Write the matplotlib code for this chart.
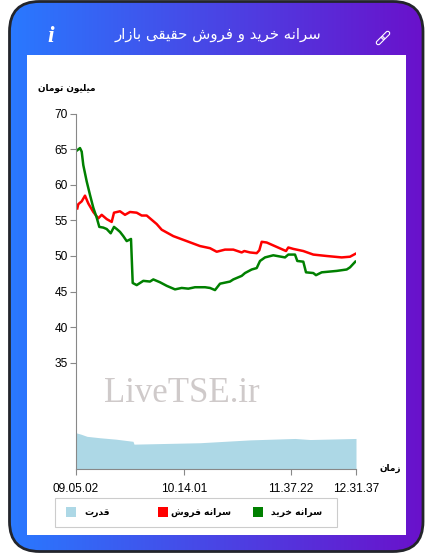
import matplotlib
matplotlib.use('Agg')
import matplotlib.pyplot as plt
import numpy as np
from matplotlib.patches import FancyBboxPatch, Rectangle
from matplotlib.transforms import Affine2D

# data, x is the sample position on the category axis
buy_x = [1.3, 4, 5.7, 7.3, 10.7, 14, 17.3, 20.7, 23.3, 27.3, 30.7, 34.7, 38, 40.7, 44, 47.3, 50.7, 55, 56.7,
         60.7, 67.3, 74, 77.3, 84, 90.7, 99, 105.7, 112.3, 119, 129, 134, 139, 144, 154, 157.3, 165.7, 169,
         175.7, 180.7, 184, 189, 197.3, 209, 212.3, 219, 221.3, 227.3, 230, 237.3, 240, 245.7, 260.7, 270.7,
         274, 279.3]
buy_values = [64.9, 65.2, 64.7, 62.8, 60.5, 58.6, 56.8, 55.4, 54.1, 54.0, 53.8, 53.2, 54.1, 53.8, 53.4, 52.8, 52.1,
              52.4, 46.2, 45.9, 46.5, 46.4, 46.7, 46.3, 45.8, 45.3, 45.5, 45.4, 45.6, 45.6, 45.5, 45.2, 46.1, 46.4,
              46.7, 47.2, 47.6, 48.1, 48.3, 49.3, 49.8, 50.1, 49.8, 50.2, 50.2, 49.3, 49.2, 47.7, 47.6, 47.3, 47.7,
              47.9, 48.1, 48.4, 49.2]
sell_x = [1.3, 2.3, 5.7, 9, 12.3, 17.3, 22.3, 25.7, 30.7, 35.7, 38, 44, 49, 54, 60.7, 65.7, 70.7, 75.7, 80.7, 85.7,
          97.3, 110.7, 124, 130.7, 134, 140.7, 149, 157.3, 165.7, 168.3, 174, 180.7, 183.3, 185.7, 190.7, 210,
          212.3, 217.3, 227.3, 237.3, 250.7, 265.7, 274, 279.3]
sell_values = [56.7, 57.3, 57.7, 58.5, 57.4, 56.2, 55.3, 55.8, 55.2, 54.8, 56.1, 56.3, 55.8, 56.2, 56.1, 55.7, 55.7,
               55.1, 54.5, 53.7, 52.8, 52.1, 51.4, 51.2, 51.1, 50.6, 50.9, 50.9, 50.5, 50.7, 50.5, 50.4, 50.8, 52.0,
               51.9, 50.7, 51.2, 51.0, 50.7, 50.2, 50.0, 49.8, 49.9, 50.3]
power_x = [0, 5, 11, 24, 40, 57, 58, 124, 174, 219, 234, 280]
power_values = [25.1, 24.9, 24.6, 24.4, 24.2, 23.9, 23.5, 23.7, 24.1, 24.3, 24.15, 24.3]
time_ticks = [0, 108, 215, 280]
time_labels = ['09.05.02', '10.14.01', '11.37.22', '12.31.37']
y_ticks = [35, 40, 45, 50, 55, 60, 65, 70]

title = 'سرانه خرید و فروش حقیقی بازار'
y_title = 'میلیون تومان'
x_title = 'زمان'
buy_name = 'سرانه خرید'
sell_name = 'سرانه فروش'
power_name = 'قدرت'

# matplotlib does not join arabic letters, so pick the presentation forms by hand
forms = {
    'ا': 'ﺍﺎ', 'د': 'ﺩﺪ', 'ر': 'ﺭﺮ', 'ز': 'ﺯﺰ', 'و': 'ﻭﻮ',
    'ب': 'ﺏﺐﺑﺒ', 'ت': 'ﺕﺖﺗﺘ', 'ح': 'ﺡﺢﺣﺤ', 'خ': 'ﺥﺦﺧﺨ', 'س': 'ﺱﺲﺳﺴ', 'ش': 'ﺵﺶﺷﺸ',
    'ف': 'ﻑﻒﻓﻔ', 'ق': 'ﻕﻖﻗﻘ', 'ل': 'ﻝﻞﻟﻠ', 'م': 'ﻡﻢﻣﻤ', 'ن': 'ﻥﻦﻧﻨ', 'ه': 'ﻩﻪﻫﻬ',
    'ی': 'ﯼﯽﯾﯿ',
}


def shape(text):
    out = []
    for word in text.split(' '):
        letters = ''
        for i, ch in enumerate(word):
            prev_joins = i > 0 and len(forms[word[i - 1]]) == 4
            next_joins = i < len(word) - 1 and len(forms[ch]) == 4
            if prev_joins and next_joins:
                letters += forms[ch][3]
            elif next_joins:
                letters += forms[ch][2]
            elif prev_joins:
                letters += forms[ch][1]
            else:
                letters += forms[ch][0]
        out.append(letters)
    return ' '.join(out)[::-1]


W, H = 433, 559
fig = plt.figure(figsize=(W / 100, H / 100), dpi=100, facecolor='white')

# card in pixel coordinates
bg = fig.add_axes([0, 0, 1, 1], zorder=0)
bg.set_xlim(0, W)
bg.set_ylim(H, 0)
bg.axis('off')

c1 = np.array([0x29, 0x79, 0xff]) / 255
c2 = np.array([0x6a, 0x11, 0xcb]) / 255
t = np.linspace(0, 1, 256)[None, :, None]
grad = c1 + (c2 - c1) * t
im = bg.imshow(grad, extent=[9, 424, 553, 1], aspect='auto', zorder=1)
card = FancyBboxPatch((9.5, 1.5), 413.5, 550, boxstyle='round,pad=0,rounding_size=30',
                      facecolor='none', edgecolor='#23252b', linewidth=2.0, zorder=3)
bg.add_patch(card)
im.set_clip_path(card)
bg.set_xlim(0, W)
bg.set_ylim(H, 0)
bg.add_patch(Rectangle((27, 55), 379, 480, facecolor='white', edgecolor='none', zorder=2))

bg.text(218, 35, shape(title), color='white', fontsize=10.7, family='DejaVu Sans', ha='center', va='center', zorder=4)
bg.text(51, 37, 'i', color='white', fontsize=17, family='Liberation Serif', style='italic', weight='bold',
        ha='center', va='center', zorder=4)

# link icon
for off in (-3.8, 3.8):
    rot = Affine2D().rotate_deg_around(383, 38, -45) + bg.transData
    bg.add_patch(FancyBboxPatch((383 + off - 4.8, 36), 9.6, 4, boxstyle='round,pad=0,rounding_size=2',
                                facecolor='none', edgecolor='white', linewidth=0.8, transform=rot, zorder=4))

bg.text(67, 88, shape(y_title), fontsize=6.4, family='DejaVu Sans', weight='bold', ha='center', va='center', zorder=4)
bg.text(390, 468, shape(x_title), fontsize=6.4, family='DejaVu Sans', weight='bold', ha='center', va='center', zorder=4)
bg.text(182, 393, 'LiveTSE.ir', fontsize=25, family='Liberation Serif', color='#cfcaca', ha='center', va='center', zorder=4)

# legend box
bg.add_patch(Rectangle((54.5, 497.5), 282, 29, facecolor='white', edgecolor='#cccccc', linewidth=0.8, zorder=4))
for x0, color, name, right in [(253, 'green', buy_name, 322), (158, 'red', sell_name, 231), (66, 'lightblue', power_name, 110)]:
    bg.add_patch(Rectangle((x0, 507), 10, 10, facecolor=color, edgecolor='none', zorder=5))
    bg.text(right, 512.5, shape(name), fontsize=6.6, family='DejaVu Sans', weight='bold', ha='right', va='center', zorder=5)

# chart
ax = fig.add_axes([76 / W, (H - 469) / H, 280 / W, 355 / H], zorder=1)
ax.patch.set_alpha(0)
ax.fill_between(power_x, 20, power_values, color='lightblue', linewidth=0)
ax.plot(sell_x, sell_values, color='red', linewidth=1.8)
ax.plot(buy_x, buy_values, color='green', linewidth=1.8)

ax.set_xlim(0, 280)
ax.set_ylim(20, 70)
ax.set_xticks(time_ticks)
ax.set_xticklabels(time_labels, family='Liberation Sans', fontsize=8.6)
ax.set_yticks(y_ticks)
ax.set_yticklabels(y_ticks, family='Liberation Sans', fontsize=8.6)
ax.tick_params(axis='x', length=4, width=0.8, color='#888888', pad=6)
ax.tick_params(axis='y', length=4, width=0.8, color='#888888', pad=2)
ax.spines['top'].set_visible(False)
ax.spines['right'].set_visible(False)
ax.spines['left'].set_color('#888888')
ax.spines['bottom'].set_color('#888888')

fig.savefig('out.png', dpi=100)
